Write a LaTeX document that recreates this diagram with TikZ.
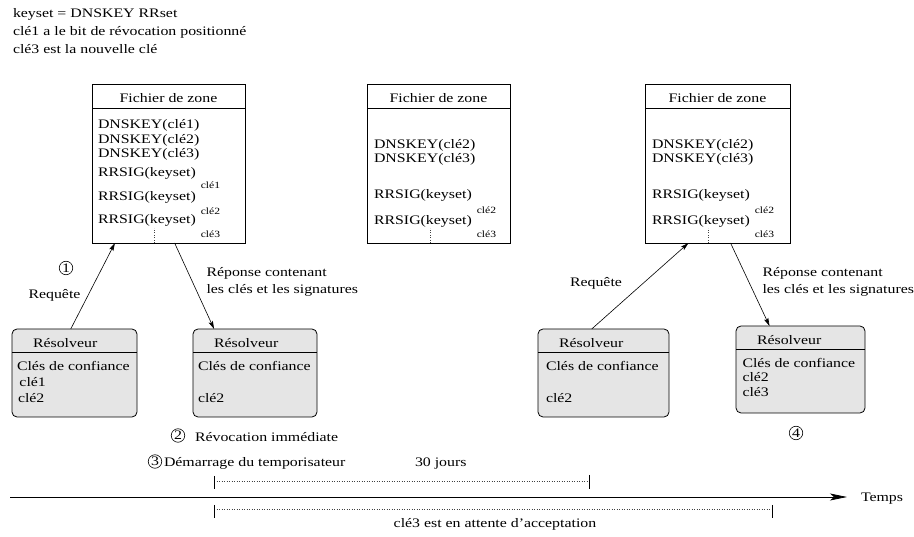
\documentclass[tikz,border=0pt]{standalone}
\usepackage{fontspec}
\setmainfont{Liberation Serif}[FakeStretch=1.22]
\usetikzlibrary{arrows.meta,calc}

\begin{document}
\begin{tikzpicture}[x=1pt,y=-1pt,
  every node/.style={inner sep=0pt, outer sep=0pt, font=\fontsize{13}{15}\selectfont},
  txt/.style={anchor=base west},
  subtxt/.style={anchor=base west, font=\fontsize{9.5}{11}\selectfont},
  zonebox/.style={draw, line width=0.8pt, minimum height=159pt},
  resolver/.style={draw, line width=0.8pt, rounded corners=5pt, fill=black!10, minimum height=88pt},
  num/.style={draw, circle, minimum size=13.5pt, line width=0.6pt},
  link/.style={-{Stealth[length=8pt,width=4.5pt,inset=1.5pt]}, line width=0.6pt},
  tickmark/.style={line width=0.8pt},
  span/.style={dotted, line width=0.5pt, black!75},
]
\useasboundingbox (0,0) rectangle (914,537);

% ---- legend ----
\node[txt] (l1) at (13,18) {keyset = DNSKEY RRset};
\node[txt] (l2) at (13,36) {clé1 a le bit de révocation positionné};
\node[txt] (l3) at (13,54) {clé3 est la nouvelle clé};

% ---- zone files ----
\node[zonebox, minimum width=153pt] (z1) at (168.5,163.5) {};
\node[zonebox, minimum width=143pt] (z2) at (438.5,163.5) {};
\node[zonebox, minimum width=145pt] (z3) at (717.5,163.5) {};
\foreach \z in {z1,z2,z3}{
  \draw[line width=0.8pt] ($(\z.north west)+(0,24)$) -- ($(\z.north east)+(0,24)$);
  \node[anchor=base] at ($(\z.north)+(0,19)$) {Fichier de zone};
}

% zone 1 records
\node[txt] (a1) at (98,129) {DNSKEY(clé1)};
\node[txt] (a2) at (98,143.5) {DNSKEY(clé2)};
\node[txt] (a3) at (98,158) {DNSKEY(clé3)};
\node[txt] (a4) at (98,177) {RRSIG(keyset)};
\node[subtxt] at ($(a4.base east)+(5,12)$) {clé1};
\node[txt] (a5) at (98,201) {RRSIG(keyset)};
\node[subtxt] at ($(a5.base east)+(5,13.5)$) {clé2};
\node[txt] (a6) at (98,223.5) {RRSIG(keyset)};
\node[subtxt] at ($(a6.base east)+(5,14.5)$) {clé3};
\draw[span] ($(z1.south west)+(62,0)$) -- +(0,-15);

% zone 2 records
\node[txt] (b1) at (374,148.5) {DNSKEY(clé2)};
\node[txt] (b2) at (374,162.5) {DNSKEY(clé3)};
\node[txt] (b3) at (374,199) {RRSIG(keyset)};
\node[subtxt] at ($(b3.base east)+(5,14.5)$) {clé2};
\node[txt] (b4) at (374,225) {RRSIG(keyset)};
\node[subtxt] at ($(b4.base east)+(5,12.5)$) {clé3};
\draw[span] ($(z2.south west)+(63,0)$) -- +(0,-15);

% zone 3 records
\node[txt] (c1) at (652,148.5) {DNSKEY(clé2)};
\node[txt] (c2) at (652,162.5) {DNSKEY(clé3)};
\node[txt] (c3) at (652,199) {RRSIG(keyset)};
\node[subtxt] at ($(c3.base east)+(5,14.5)$) {clé2};
\node[txt] (c4) at (652,225) {RRSIG(keyset)};
\node[subtxt] at ($(c4.base east)+(5,12.5)$) {clé3};
\draw[span] ($(z3.south west)+(63,0)$) -- +(0,-15);

% ---- resolvers ----
\node[resolver, minimum width=125pt] (r1) at (74.5,373) {};
\node[resolver, minimum width=124pt] (r2) at (255,373) {};
\node[resolver, minimum width=131pt] (r3) at (603.5,373) {};
\node[resolver, minimum width=129pt, minimum height=87pt] (r4) at (800.5,369.5) {};
\foreach \r in {r1,r2,r3,r4}{
  \draw[line width=0.8pt] ($(\r.north west)+(0,23.5)$) -- ($(\r.north east)+(0,23.5)$);
  \node[txt] at ($(\r.north west)+(21,18.5)$) {Résolveur};
}
\node[txt] at (17,370.5) {Clés de confiance};
\node[txt] at (19.5,386.5) {clé1};
\node[txt] at (18,402.5) {clé2};

\node[txt] at (198,370.5) {Clés de confiance};
\node[txt] at (198,402.5) {clé2};

\node[txt] at (546,370.5) {Clés de confiance};
\node[txt] at (546,402.5) {clé2};

\node[txt] at (742.5,367.5) {Clés de confiance};
\node[txt] at (742.5,382) {clé2};
\node[txt] at (742.5,396.5) {clé3};

% ---- exchanges ----
\draw[link] ($(r1.north west)!0.47!(r1.north east)$) -- ($(z1.south west)!0.15!(z1.south east)$);
\draw[link] ($(z1.south west)!0.54!(z1.south east)$) -- ($(r2.north west)!0.17!(r2.north east)$);
\draw[link] ($(r3.north west)!0.41!(r3.north east)$) -- ($(z3.south west)!0.30!(z3.south east)$);
\draw[link] ($(z3.south west)!0.59!(z3.south east)$) -- ($(r4.north west)!0.26!(r4.north east)$);

\node[num] (n1) at (66,268) {1};
\node[txt] (q1) at (28.5,299) {Requête};
\node[txt] (p1) at (206.5,277) {Réponse contenant};
\node[txt] (p2) at (206.5,294) {les clés et les signatures};

\node[txt] (q2) at (570,287) {Requête};
\node[txt] (p3) at (762.5,277) {Réponse contenant};
\node[txt] (p4) at (762.5,294) {les clés et les signatures};

\node[num] (n2) at (178,435.5) {2};
\node[txt] (e2) at (195,442) {Révocation immédiate};
\node[num] (n3) at (155,461.5) {3};
\node[txt] (e3) at (164,467) {Démarrage du temporisateur};
\node[txt] (d30) at (415,467) {30 jours};
\node[num] (n4) at (796,433) {4};

% ---- time line ----
\node[txt] (temps) at (861,502) {Temps};
\coordinate (axstart) at (10,497);
\draw[line width=0.8pt, -{Stealth[length=17pt,width=7pt,inset=4pt]}, shorten >=14pt]
  (axstart) -- (axstart -| temps.west);

% 30-day timer
\coordinate (ua) at (214,481);
\coordinate (ub) at (589,481);
\draw[span] (ua) -- (ub);
\draw[tickmark] ($(ua)+(0,-5)$) -- ($(ua)+(0,8)$);
\draw[tickmark] ($(ub)+(0,-6)$) -- ($(ub)+(0,8)$);

% pending acceptance period
\coordinate (la) at (214,509);
\coordinate (lb) at (772,509);
\draw[span] (la) -- (lb);
\draw[tickmark] ($(la)+(0,-4)$) -- ($(la)+(0,9)$);
\draw[tickmark] ($(lb)+(0,-4)$) -- ($(lb)+(0,9)$);
\node[anchor=base] (att) at (495,528) {clé3 est en attente d’acceptation};

\end{tikzpicture}
\end{document}
